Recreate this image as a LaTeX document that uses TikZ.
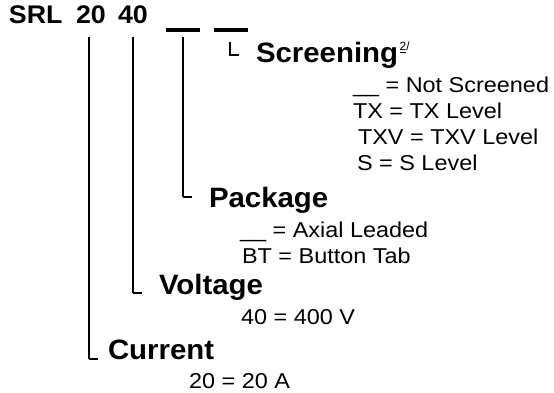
\documentclass[tikz,border=0pt]{standalone}
\usepackage{fontspec}
\setmainfont{Liberation Sans}
\newfontfamily\bodyfont[FakeStretch=1.09]{Liberation Sans}
\newfontfamily\headfont[FakeStretch=1.05]{Liberation Sans}
\begin{document}
\begin{tikzpicture}[x=1pt,y=-1pt,
  txt/.style={anchor=base west,inner sep=0pt,outer sep=0pt},
  title/.style={txt,font=\headfont\fontsize{25.5}{30}\selectfont\bfseries},
  head/.style={txt,font=\headfont\fontsize{28}{30}\selectfont\bfseries},
  body/.style={txt,font=\bodyfont\fontsize{21.5}{26}\selectfont},
  stem/.style={line width=2pt},
  hook/.style={line width=1.2pt},
  blank/.style={line width=3.5pt}]
\useasboundingbox (0,0) rectangle (554,393);
% title
\node[title] (srl) at (9,24) {SRL};
\node[title] (n20) at (76,24) {20};
\node[title] (n40) at (118,24) {40};
\coordinate (b1l) at (166,30); \coordinate (b1r) at (200,30);
\coordinate (b2l) at (214,30); \coordinate (b2r) at (248,30);
\draw[blank] (b1l) -- (b1r);
\draw[blank] (b2l) -- (b2r);
% stems
\coordinate (c0) at (89,37); \coordinate (c1) at (89,359); \coordinate (c2) at (98,359);
\coordinate (v0) at (133,37); \coordinate (v1) at (133,293); \coordinate (v2) at (142,293);
\coordinate (p0) at (183,37); \coordinate (p1) at (183,197); \coordinate (p2) at (192,197);
\coordinate (s0) at (230,42); \coordinate (s1) at (230,55); \coordinate (s2) at (239,55);
\draw[stem] (c0) -- (c1);
\draw[stem] (v0) -- (v1);
\draw[stem] (p0) -- (p1);
\draw[hook] (c1) -- (c2);
\draw[hook] (v1) -- (v2);
\draw[hook] (p1) -- (p2);
\draw[hook] (s0) -- (s1) -- (s2);
% screening
\node[head] (scr) at (256,63) {Screening};
\node[txt,font=\fontsize{12}{14}\selectfont,xshift=1.5pt,yshift=12pt] (fn) at (scr.base east) {\underline{2}/};
\node[body] (s_a) at (353,93) {\_\_ = Not Screened};
\node[body] (s_b) at (353,119) {TX = TX Level};
\node[body] (s_c) at (358,145) {TXV = TXV Level};
\node[body] (s_d) at (357,171) {S = S Level};
% package
\node[head] (pkg) at (209,207) {Package};
\node[body] (p_a) at (240,237) {\_\_ = Axial Leaded};
\node[body] (p_b) at (242,263) {BT = Button Tab};
% voltage
\node[head] (vol) at (159,294) {Voltage};
\node[body] (v_a) at (241,324) {40 = 400 V};
% current
\node[head] (cur) at (108,359) {Current};
\node[body] (c_a) at (189,388) {20 = 20 A};
\end{tikzpicture}
\end{document}
